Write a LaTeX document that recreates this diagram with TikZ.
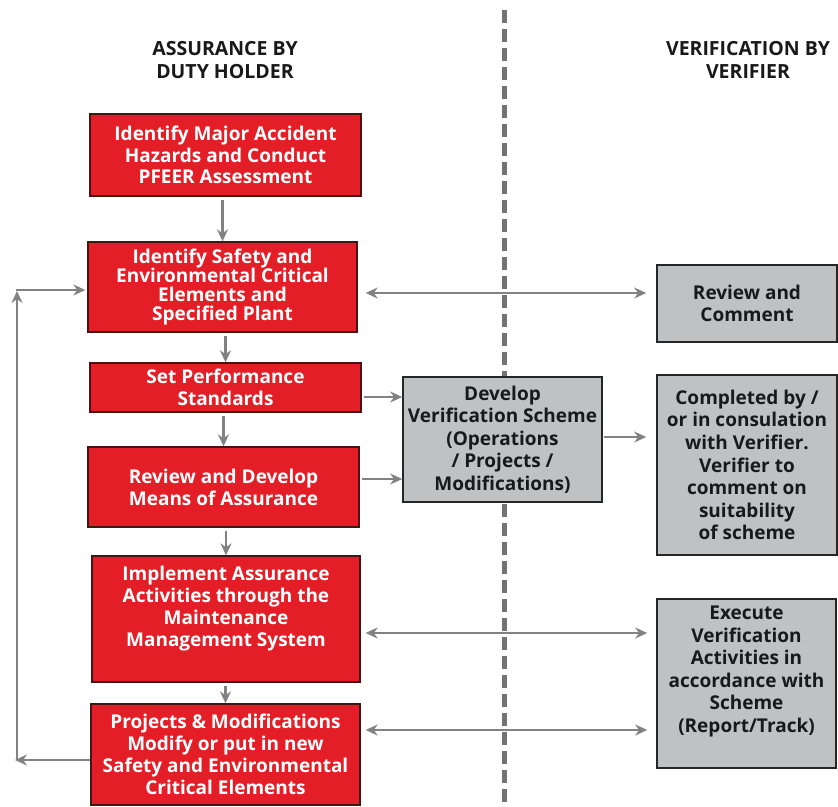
\documentclass[tikz,border=0pt]{standalone}
\usepackage{fontspec}
\setmainfont{Open Sans}
\usetikzlibrary{arrows.meta}
\definecolor{boxred}{RGB}{228,30,38}
\definecolor{boxborder}{RGB}{70,20,20}
\definecolor{boxgray}{RGB}{192,193,195}
\definecolor{linegray}{RGB}{130,130,130}
\definecolor{dashgray}{RGB}{115,115,115}
\begin{document}
\begin{tikzpicture}[x=1pt,y=-1pt,
  redbox/.style={draw=boxborder, line width=1.3pt, fill=boxred, text=white,
    font=\bfseries\fontsize{19}{21.8}\selectfont, align=center, inner sep=0pt},
  graybox/.style={draw=black!85, line width=1.6pt, fill=boxgray, text=black!90,
    font=\bfseries\fontsize{19}{22.6}\selectfont, align=center, inner sep=0pt},
  conn/.style={draw=linegray, line width=2.1pt, -{Stealth[length=12pt,width=11pt]}},
  biconn/.style={draw=linegray, line width=2.1pt, {Stealth[length=12pt,width=11pt]}-{Stealth[length=12pt,width=11pt]}},
  title/.style={font=\bfseries\fontsize{19.5}{23.5}\selectfont, align=center, text=black!90}]
\useasboundingbox (0,0) rectangle (838,806);

% divider
\coordinate (dtop) at (504,10);
\coordinate (dbot) at (504,806);
\draw[dashgray, line width=5pt, dash pattern=on 13pt off 6pt] (dtop) -- (dbot);

% titles
\node[title] (tl) at (225,60) {ASSURANCE BY\\DUTY HOLDER};
\node[title] (tr) at (748,60) {VERIFICATION BY\\VERIFIER};

% left column
\node[redbox, minimum width=271, minimum height=82] (b1) at (225.5,155)
  {Identify Major Accident\\Hazards and Conduct\\PFEER Assessment};
\node[redbox, minimum width=269, minimum height=90,
  font=\bfseries\fontsize{19}{19.3}\selectfont] (b2) at (222.5,287)
  {Identify Safety and\\Environmental Critical\\Elements and\\Specified Plant};
\node[redbox, minimum width=271, minimum height=49] (b3) at (225.5,387.5)
  {Set Performance\\Standards};
\node[redbox, minimum width=271, minimum height=80] (b4) at (223.5,487)
  {Review and Develop\\Means of Assurance};
\node[redbox, minimum width=268, minimum height=126] (b5) at (226,619)
  {Implement Assurance\\Activities through the\\Maintenance\\Management System\\[4pt]\mbox{}};
\node[redbox, minimum width=269, minimum height=101] (b6) at (225.5,754.5)
  {Projects \& Modifications\\Modify or put in new\\Safety and Environmental\\Critical Elements};

% middle
\node[graybox, minimum width=199, minimum height=125] (dev) at (502.5,439.5)
  {Develop\\Verification Scheme\\(Operations\\/ Projects /\\Modifications)};

% right column
\node[graybox, minimum width=180, minimum height=77] (rc) at (747,303.5)
  {Review and\\Comment};
\node[graybox, minimum width=180, minimum height=180] (cs) at (747,465)
  {Completed by /\\or in consulation\\with Verifier.\\Verifier to\\comment on\\suitability\\of scheme};
\node[graybox, minimum width=179, minimum height=169] (ex) at (746.5,683.5)
  {Execute\\Verification\\Activities in\\accordance with\\Scheme\\(Report/Track)\\[6pt]\mbox{}};

% vertical flow
\draw[conn, shorten <=3pt] (b1.south -| b2.north) -- (b2.north);
\draw[conn, shorten <=3pt] (b2.south -| b3.north) -- (b3.north);
\draw[conn, shorten <=3pt] (b3.south -| b4.north) -- (b4.north);
\draw[conn, shorten <=3pt] (b4.south -| b5.north) -- (b5.north);
\draw[conn, shorten <=3pt] (b5.south -| b6.north) -- (b6.north);

% horizontal links
\path ([shift={(8,6)}]b2.east) coordinate (a2);
\draw[biconn, shorten >=10pt] (a2) -- (a2 -| rc.west);
\path ([shift={(2,9.5)}]b3.east) coordinate (a3);
\draw[conn] (a3) -- (a3 -| dev.west);
\path ([shift={(2,-8)}]b4.east) coordinate (a4);
\draw[conn] (a4) -- (a4 -| dev.west);
\path ([shift={(1,-2.5)}]dev.east) coordinate (ad);
\draw[conn, shorten >=10pt] (ad) -- (ad -| cs.west);
\path ([shift={(5,14)}]b5.east) coordinate (a5);
\draw[biconn, shorten >=9pt] (a5) -- (a5 -| ex.west);
\path ([shift={(5,-24.5)}]b6.east) coordinate (a6);
\draw[biconn, shorten >=9pt] (a6) -- (a6 -| ex.west);

% feedback loop
\coordinate (fx) at (17,0);
\path ([yshift=-5.5pt]b6.west) coordinate (f1);
\path ([yshift=-3pt]b2.west) coordinate (f2);
\draw[conn, shorten >=-2pt] (f1) -- (f1 -| fx);
\draw[conn] (f1 -| fx) -- ([yshift=-1pt]fx |- f2);
\draw[conn, shorten >=2pt, shorten <=-1pt] (fx |- f2) -- (f2);
\end{tikzpicture}
\end{document}
